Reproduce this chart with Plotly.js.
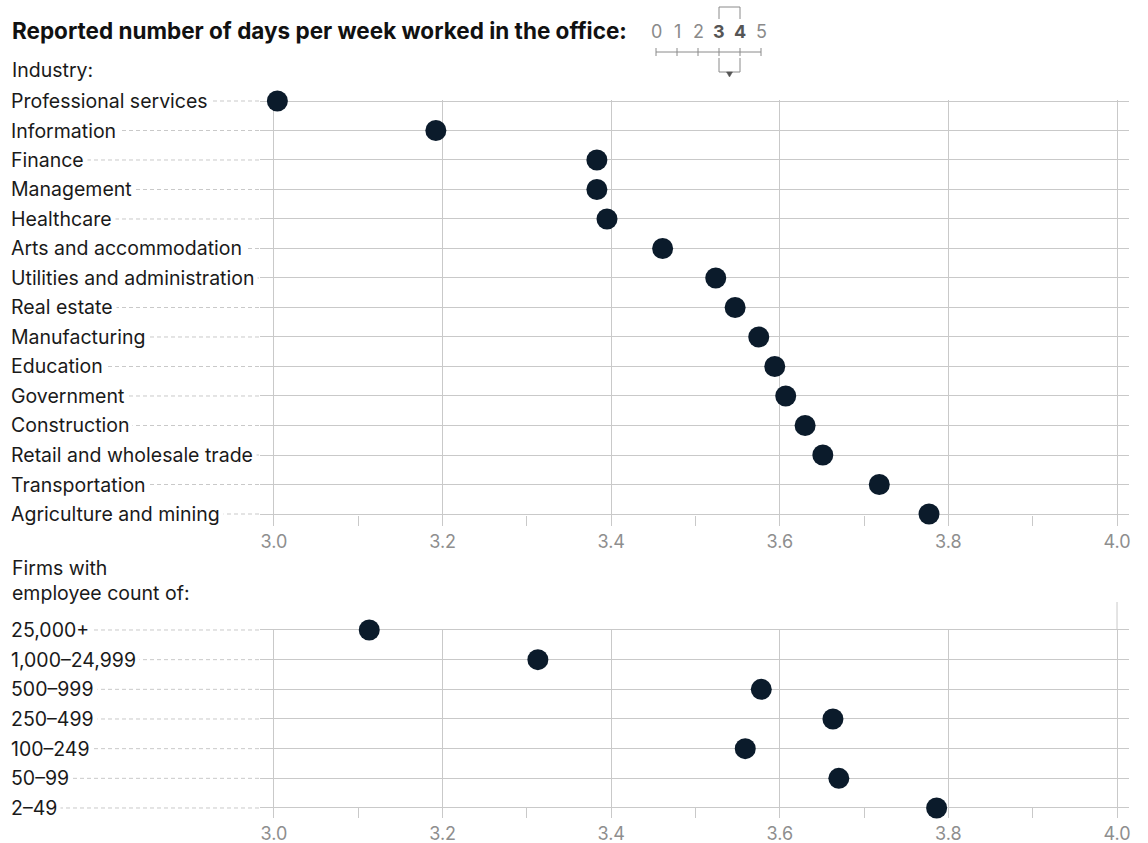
<!DOCTYPE html>
<html>
<head>
<meta charset="utf-8">
<script src="https://cdn.plot.ly/plotly-3.0.1.min.js"></script>
<style>html,body{margin:0;padding:0;background:#fff;}#chart{width:1148px;height:843px;}</style>
</head>
<body>
<div id="chart"></div>
<script>
// ---- data ----
const industries = ["Professional services","Information","Finance","Management","Healthcare","Arts and accommodation","Utilities and administration","Real estate","Manufacturing","Education","Government","Construction","Retail and wholesale trade","Transportation","Agriculture and mining"];
const industryDays = [3.004,3.192,3.383,3.383,3.395,3.461,3.524,3.547,3.575,3.594,3.607,3.630,3.651,3.718,3.777];
const firmSizes = ["25,000+","1,000\u201324,999","500\u2013999","250\u2013499","100\u2013249","50\u201399","2\u201349"];
const firmDays = [3.113,3.313,3.578,3.663,3.559,3.670,3.786];
const xTickVals = [3.0,3.2,3.4,3.6,3.8,4.0];
const xTickText = ["3.0","3.2","3.4","3.6","3.8","4.0"];
const xMinorVals = [3.1,3.3,3.5,3.7,3.9];
const scaleDigits = ["0","1","2","3","4","5"];
const highlightDigits = ["3","4"];
const titleText = "Reported number of days per week worked in the office:";
const industryHeading = "Industry:";
const firmHeading = "Firms with<br>employee count of:";

// ---- layout helpers (pixel geometry) ----
const W = 1148, H = 843;
const ML = 260, MR = 19;
const PW = W - ML - MR;
const px2x = p => (p - ML) / PW;
const py2y = p => 1 - p / H;

const FONT = "Inter, 'Open Sans', sans-serif";
const GRID = "#c9c9c9";
const DOT = "#0b1b2b";
const TXT = "#1a1a1a";
const LABEL_SIZE = 19.5;

// top panel: rows 101..514, bottom edge 526
const topRow0 = 101, topRowN = 514, topBottom = 526;
const topStep = (topRowN - topRow0) / (industries.length - 1);
const topExtra = (topBottom - topRowN) / topStep;
const topPad = 0.05;
const topDomTop = topRow0 - topPad * topStep;
// bottom panel: rows 630..808, bottom edge 818
const botRow0 = 630, botRowN = 808, botBottom = 818;
const botStep = (botRowN - botRow0) / (firmSizes.length - 1);
const botExtra = (botBottom - botRowN) / botStep;
const botDomTop = botRow0 - topPad * botStep;

const xRange = [2.9834, 4.0142];

function xaxisDef(anchor) {
  return {
    anchor: anchor, domain: [0, 1], range: xRange, fixedrange: true,
    showgrid: true, gridcolor: GRID, gridwidth: 1, zeroline: false, showline: false,
    tickmode: "array", tickvals: xTickVals, ticktext: xTickText, ticks: "",
    ticklabelstandoff: 3,
    tickfont: {family: FONT, size: 18, color: "#8e8e8e"},
    minor: {tickmode: "array", tickvals: xMinorVals, ticks: "inside", ticklen: 10, tickwidth: 1, tickcolor: GRID, showgrid: false}
  };
}
function yaxisDef(anchor, cats, extra, dom) {
  return {
    anchor: anchor, type: "category", categoryorder: "array", categoryarray: cats,
    range: [cats.length - 1 + extra, -topPad], domain: dom, fixedrange: true,
    showgrid: true, gridcolor: GRID, gridwidth: 1, zeroline: false, showline: false,
    showticklabels: false, ticks: ""
  };
}

const traces = [
  {type: "scatter", mode: "markers", x: industryDays, y: industries, xaxis: "x", yaxis: "y",
   marker: {size: 21, color: DOT}, cliponaxis: false, hoverinfo: "x+y"},
  {type: "scatter", mode: "markers", x: firmDays, y: firmSizes, xaxis: "x2", yaxis: "y2",
   marker: {size: 21, color: DOT}, cliponaxis: false, hoverinfo: "x+y"}
];

const shapes = [];
const annotations = [];

function addRows(cats, yref) {
  cats.forEach((c, i) => {
    shapes.push({type: "line", xref: "paper", yref: yref, x0: px2x(10), x1: 0, y0: i, y1: i,
      line: {color: GRID, width: 1, dash: "4px,3px"}, layer: "below"});
    annotations.push({xref: "paper", yref: yref, x: px2x(7), y: i, xanchor: "left", yanchor: "middle",
      text: c, showarrow: false, bgcolor: "#ffffff", borderpad: 3,
      font: {family: FONT, size: LABEL_SIZE, color: TXT}});
  });
}
addRows(industries, "y");
addRows(firmSizes, "y2");

// extension of 4.0 gridline in lower panel
shapes.push({type: "line", xref: "x2", yref: "paper", x0: 4.0, x1: 4.0, y0: py2y(botRow0), y1: py2y(602),
  line: {color: GRID, width: 1}});

// title & headings
annotations.push({xref: "paper", yref: "paper", x: px2x(10), y: py2y(31), xanchor: "left", yanchor: "middle",
  text: "<b>" + titleText + "</b>", showarrow: false, font: {family: FONT, size: 22.5, color: "#111"}});
annotations.push({xref: "paper", yref: "paper", x: px2x(10), y: py2y(70), xanchor: "left", yanchor: "middle",
  text: industryHeading, showarrow: false, font: {family: FONT, size: LABEL_SIZE, color: TXT}});
annotations.push({xref: "paper", yref: "paper", x: px2x(10), y: py2y(580), xanchor: "left", yanchor: "middle", align: "left",
  text: firmHeading, showarrow: false, font: {family: FONT, size: LABEL_SIZE, color: TXT}});

// scale key graphic
const keyX0 = 656, keyStep = 21;
scaleDigits.forEach((d, i) => {
  const hl = highlightDigits.includes(d);
  annotations.push({xref: "paper", yref: "paper", x: px2x(keyX0 + i * keyStep), y: py2y(32), xanchor: "center", yanchor: "middle",
    text: hl ? "<b>" + d + "</b>" : d, showarrow: false,
    font: {family: FONT, size: 18, color: hl ? "#555" : "#8a8a8a"}});
  shapes.push({type: "line", xref: "paper", yref: "paper", x0: px2x(keyX0 + i * keyStep), x1: px2x(keyX0 + i * keyStep),
    y0: py2y(48), y1: py2y(56), line: {color: "#8a8a8a", width: 1}});
});
const keyLine = {color: "#8a8a8a", width: 1};
shapes.push({type: "line", xref: "paper", yref: "paper", x0: px2x(keyX0), x1: px2x(keyX0 + 5 * keyStep), y0: py2y(52), y1: py2y(52), line: keyLine});
const bL = keyX0 + 3 * keyStep, bR = keyX0 + 4 * keyStep;
shapes.push({type: "path", xref: "paper", yref: "paper",
  path: `M${px2x(bL)},${py2y(19)} L${px2x(bL)},${py2y(7)} L${px2x(bR)},${py2y(7)} L${px2x(bR)},${py2y(19)}`, line: keyLine});
shapes.push({type: "path", xref: "paper", yref: "paper",
  path: `M${px2x(bL)},${py2y(58)} L${px2x(bL)},${py2y(72)} L${px2x(bR)},${py2y(72)} L${px2x(bR)},${py2y(58)}`, line: keyLine});
const bM = (bL + bR) / 2;
shapes.push({type: "path", xref: "paper", yref: "paper",
  path: `M${px2x(bM - 3)},${py2y(72)} L${px2x(bM + 3)},${py2y(72)} L${px2x(bM)},${py2y(77)} Z`,
  fillcolor: "#555", line: {color: "#555", width: 0.5}});

const layout = {
  width: W, height: H,
  margin: {l: ML, r: MR, t: 0, b: 0, pad: 0},
  paper_bgcolor: "#fff", plot_bgcolor: "#fff",
  showlegend: false,
  font: {family: FONT, color: TXT},
  xaxis: xaxisDef("y"),
  yaxis: yaxisDef("x", industries, topExtra, [py2y(topBottom), py2y(topDomTop)]),
  xaxis2: xaxisDef("y2"),
  yaxis2: yaxisDef("x2", firmSizes, botExtra, [py2y(botBottom), py2y(botDomTop)]),
  shapes: shapes,
  annotations: annotations
};

Plotly.newPlot("chart", traces, layout, {displayModeBar: false, staticPlot: true});
</script>
</body>
</html>
